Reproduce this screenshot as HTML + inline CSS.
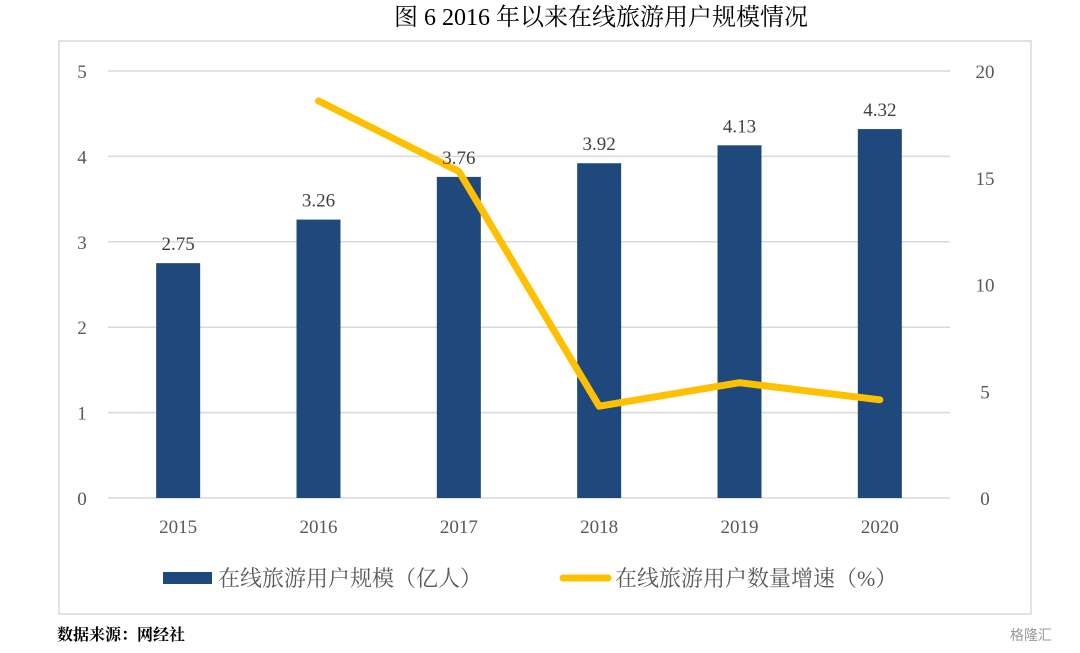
<!DOCTYPE html>
<html><head><meta charset="utf-8"><style>
body{margin:0;background:#fff;width:1080px;height:648px;overflow:hidden;font-family:"Liberation Serif","Noto Serif CJK SC",serif}
</style></head><body>
<svg id="chart" width="1080" height="648" xmlns="http://www.w3.org/2000/svg">
<text x="601" y="25" text-anchor="middle" font-size="24" font-family="Liberation Serif, Noto Serif CJK SC, serif" fill="#000">图 6  2016 年以来在线旅游用户规模情况</text>
<rect x="59" y="41" width="972" height="573" fill="none" stroke="#d9d9d9" stroke-width="1.5"/>
<g id="grid"></g><g id="bars"></g><g id="line"></g><g id="labels"></g>
<g>
<rect x="163" y="572" width="49" height="12" fill="#1f497d"/>
<text x="218" y="586" font-size="22" fill="#595959" font-family="Liberation Serif, Noto Serif CJK SC, serif">在线旅游用户规模（亿人）</text>
<line x1="563" y1="578" x2="608" y2="578" stroke="#ffc000" stroke-width="7" stroke-linecap="round"/>
<text x="615" y="586" font-size="22" fill="#595959" font-family="Liberation Serif, Noto Serif CJK SC, serif">在线旅游用户数量增速（%）</text>
</g>
<text x="57" y="640" font-size="16" font-weight="bold" fill="#000" font-family="Liberation Serif, Noto Serif CJK SC, serif">数据来源：网经社</text>
<text x="1010" y="640" font-size="14" fill="#999" font-family="Liberation Sans, Noto Sans CJK SC, sans-serif">格隆汇</text>
</svg>
<script>
const categories=["2015","2016","2017","2018","2019","2020"];
const users=[2.75,3.26,3.76,3.92,4.13,4.32];
const growth=[null,18.6,15.3,4.3,5.4,4.6];
const leftTicks=[0,1,2,3,4,5];
const rightTicks=[0,5,10,15,20];
const NS="http://www.w3.org/2000/svg";
const x0=108,x1=950,yb=498,yt=71;
const yL=v=>yb-(v/5)*(yb-yt);
const yR=v=>yb-(v/20)*(yb-yt);
const step=(x1-x0)/categories.length;
const xc=i=>x0+step*(i+0.5);
function mk(t,a,p){const e=document.createElementNS(NS,t);for(const k in a)e.setAttribute(k,a[k]);document.getElementById(p).appendChild(e);return e;}
leftTicks.forEach(v=>{
 const l=mk("line",{x1:x0,x2:x1,y1:yL(v),y2:yL(v),stroke:"#d9d9d9","stroke-width":1.5},"grid");
 
 
 const t=mk("text",{x:82,y:yL(v)+7,"text-anchor":"middle","font-size":19,fill:"#595959"},"labels");t.textContent=v;
 
 
});
rightTicks.forEach(v=>{
 const t=mk("text",{x:985,y:yR(v)+7,"text-anchor":"middle","font-size":19,fill:"#595959"},"labels");t.textContent=v;
 
 
});
categories.forEach((c,i)=>{
 const b=mk("rect",{x:xc(i)-22,y:yL(users[i]),width:44,height:yb-yL(users[i]),fill:"#1f497d"},"bars");
 
 
 const v=mk("text",{x:xc(i),y:yL(users[i])-13,"text-anchor":"middle","font-size":19,fill:"#404040"},"labels");v.textContent=users[i].toFixed(2);
 
 
 const t=mk("text",{x:xc(i),y:533,"text-anchor":"middle","font-size":19,fill:"#595959"},"labels");t.textContent=c;
 
 
});
const pts=[];growth.forEach((g,i)=>{if(g!==null)pts.push(xc(i)+","+yR(g));});
const pl=mk("polyline",{points:pts.join(" "),fill:"none",stroke:"#ffc000","stroke-width":7,"stroke-linejoin":"round","stroke-linecap":"round"},"line");


</script>
</body></html>
